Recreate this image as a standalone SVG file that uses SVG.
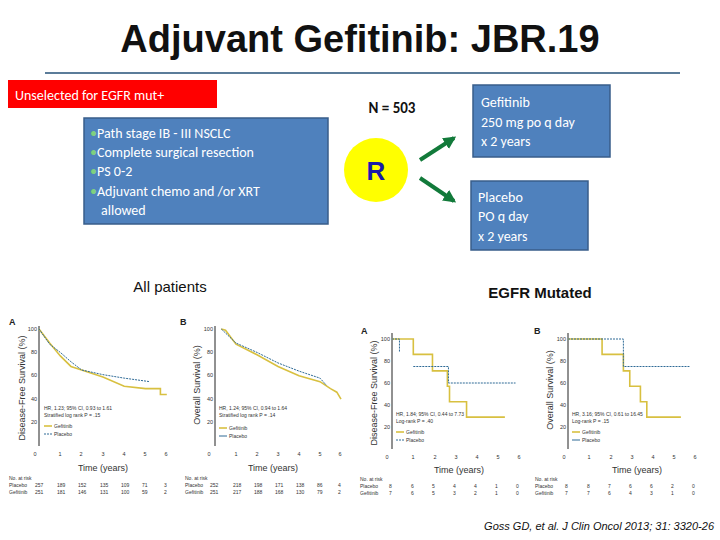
<svg xmlns="http://www.w3.org/2000/svg" width="720" height="540" viewBox="0 0 720 540">
<defs>
<style>
text{font-family:"Liberation Sans",Arial,sans-serif}
.cal{font-family:Carlito,"Open Sans","Liberation Sans",sans-serif}
.box{fill:#4f81bd;stroke:#385d8a;stroke-width:1.5}
.wt{fill:#fff;font-size:14px}
.ax{stroke:#222;stroke-width:1;fill:none}
.g{fill:none;stroke:#d8c040;stroke-width:1.6;vector-effect:non-scaling-stroke}
.p{fill:none;stroke:#2e6a96;stroke-width:1;stroke-dasharray:2 1;vector-effect:non-scaling-stroke}
.t{font-size:5px;fill:#333}
.tk{font-size:5.5px;fill:#333}
.yl{font-size:9px;fill:#333}
.xl{font-size:9px;fill:#333}
.pl{font-size:9px;font-weight:bold;fill:#222}
</style>
<marker id="ah" viewBox="0 0 10 10" refX="8" refY="5" markerWidth="3.2" markerHeight="3.2" orient="auto"><path d="M0,0L10,5L0,10z" fill="#127a3a"/></marker>
</defs>
<rect width="720" height="540" fill="#fff"/>
<text x="360" y="52" text-anchor="middle" font-size="38" font-weight="bold" fill="#111">Adjuvant Gefitinib: JBR.19</text>
<line x1="45" y1="73" x2="680" y2="73" stroke="#5b7c99" stroke-width="2"/>

<g id="unselected"><rect x="8" y="80" width="209" height="28" fill="#ff0000"/><text x="15" y="100" class="wt cal" font-size="15">Unselected for EGFR mut+</text></g>
<g id="criteria"><rect x="84" y="118" width="244" height="106" class="box"/>
<text class="wt cal" font-size="14"><tspan x="90" y="138"><tspan fill="#7fd07f">•</tspan>Path stage IB - III NSCLC</tspan><tspan x="90" y="157"><tspan fill="#7fd07f">•</tspan>Complete surgical resection</tspan><tspan x="90" y="176"><tspan fill="#7fd07f">•</tspan>PS 0-2</tspan><tspan x="90" y="196"><tspan fill="#7fd07f">•</tspan>Adjuvant chemo and /or XRT</tspan><tspan x="101" y="215">allowed</tspan></text></g>
<g id="n"><text x="392" y="113" text-anchor="middle" font-size="15" font-weight="bold" fill="#111" class="cal">N = 503</text></g>
<g id="r"><circle cx="376" cy="170" r="32" fill="#ffff00"/><text x="376" y="180" text-anchor="middle" font-size="26" font-weight="bold" fill="#1a1aa8">R</text></g>
<g id="gef"><rect x="473" y="85" width="137" height="72" class="box"/><text class="wt cal"><tspan x="481" y="107">Gefitinib</tspan><tspan x="481" y="127">250 mg po q day</tspan><tspan x="481" y="146">x 2 years</tspan></text></g>
<g id="plac"><rect x="471" y="181" width="117" height="69" class="box"/><text class="wt cal"><tspan x="478" y="202">Placebo</tspan><tspan x="478" y="221">PO q day</tspan><tspan x="478" y="241">x 2 years</tspan></text></g>
<g id="connectors" stroke="#127a3a" stroke-width="4" marker-end="url(#ah)">
<line x1="420" y1="160" x2="454" y2="138"/><line x1="420" y1="178" x2="454" y2="201"/>
</g>
<text x="170" y="292" text-anchor="middle" font-size="15" fill="#111">All patients</text>
<text x="540" y="298" text-anchor="middle" font-size="15" font-weight="bold" fill="#111">EGFR Mutated</text>

<g id="chartLA">
<text x="9" y="325" class="pl">A</text>
<path class="ax" d="M39,326V446"/>
<g class="tk" text-anchor="end"><text x="37" y="331">100</text><text x="37" y="354">80</text><text x="37" y="377">60</text><text x="37" y="401">40</text><text x="37" y="424">20</text></g>
<g class="tk" text-anchor="middle"><text x="35" y="456">0</text><text x="60" y="456">1</text><text x="81" y="456">2</text><text x="103" y="456">3</text><text x="124" y="456">4</text><text x="145" y="456">5</text><text x="166" y="456">6</text></g>
<text transform="translate(25,388) rotate(-90)" text-anchor="middle" class="yl">Disease-Free Survival (%)</text>
<text x="103" y="471" text-anchor="middle" class="xl">Time (years)</text>
<text x="44" y="410" class="t">HR, 1.23; 95% CI, 0.93 to 1.61</text><text x="44" y="417" class="t">Stratified log rank P = .15</text>
<line x1="44" y1="426" x2="52" y2="426" stroke="#d8c040" stroke-width="1.6"/><text x="54" y="428" class="t">Gefitinib</text>
<line x1="44" y1="434" x2="52" y2="434" stroke="#2e6a96" stroke-dasharray="2 1"/><text x="54" y="436" class="t">Placebo</text>
<g transform="translate(39,446) scale(21.3,-1.17)">
<polyline class="g" points="0,100 0.5,88 1,77 1.5,68 2,65 3,59 4,51 5,49 5.7,49 5.7,44 6,44"/>
<polyline class="p" points="0,100 0.5,87 1,80 1.5,72 2,65 3,61 4,58 5.2,55"/>
</g>
<g class="t"><text x="9" y="480">No. at risk</text><text x="9" y="487">Placebo</text><text x="9" y="494">Gefitinib</text>
<text x="35" y="487">257</text><text x="57" y="487">189</text><text x="78" y="487">152</text><text x="100" y="487">135</text><text x="121" y="487">109</text><text x="142" y="487">71</text><text x="164" y="487">3</text>
<text x="35" y="494">251</text><text x="57" y="494">181</text><text x="78" y="494">146</text><text x="100" y="494">131</text><text x="121" y="494">100</text><text x="142" y="494">59</text><text x="164" y="494">2</text></g>
</g>

<g id="chartLB">
<text x="180" y="325" class="pl">B</text>
<path class="ax" d="M215,326V446"/>
<g class="tk" text-anchor="end"><text x="213" y="331">100</text><text x="213" y="354">80</text><text x="213" y="377">60</text><text x="213" y="401">40</text><text x="213" y="424">20</text></g>
<g class="tk" text-anchor="middle"><text x="209" y="456">0</text><text x="236" y="456">1</text><text x="257" y="456">2</text><text x="278" y="456">3</text><text x="299" y="456">4</text><text x="320" y="456">5</text><text x="340" y="456">6</text></g>
<text transform="translate(200,385) rotate(-90)" text-anchor="middle" class="yl">Overall Survival (%)</text>
<text x="273" y="471" text-anchor="middle" class="xl">Time (years)</text>
<text x="219" y="410" class="t">HR, 1.24; 95% CI, 0.94 to 1.64</text><text x="219" y="417" class="t">Stratified log rank P = .14</text>
<line x1="219" y1="428" x2="227" y2="428" stroke="#d8c040" stroke-width="1.6"/><text x="229" y="430" class="t">Gefitinib</text>
<line x1="219" y1="436" x2="227" y2="436" stroke="#2e6a96"/><text x="229" y="438" class="t">Placebo</text>
<g transform="translate(215,446) scale(21,-1.17)">
<polyline class="g" points="0.3,100 0.5,99 1,87 2,78 3,68 4,60 5,55 5.5,49 5.8,46 6,40"/>
<polyline class="p" points="0.3,100 1,88 2,80 3,71 4,64 5,58 5.3,52"/>
</g>
<g class="t"><text x="185" y="480">No. at risk</text><text x="185" y="487">Placebo</text><text x="185" y="494">Gefitinib</text>
<text x="210" y="487">252</text><text x="233" y="487">218</text><text x="254" y="487">198</text><text x="275" y="487">171</text><text x="296" y="487">138</text><text x="317" y="487">86</text><text x="338" y="487">4</text>
<text x="210" y="494">251</text><text x="233" y="494">217</text><text x="254" y="494">188</text><text x="275" y="494">168</text><text x="296" y="494">130</text><text x="317" y="494">79</text><text x="338" y="494">2</text></g>
</g>

<g id="chartRA">
<text x="361" y="334" class="pl">A</text>
<path class="ax" d="M392,333V449"/>
<g class="tk" text-anchor="end"><text x="390" y="341">100</text><text x="390" y="363">80</text><text x="390" y="385">60</text><text x="390" y="407">40</text><text x="390" y="429">20</text></g>
<g class="tk" text-anchor="middle"><text x="387" y="459">0</text><text x="413" y="459">1</text><text x="435" y="459">2</text><text x="456" y="459">3</text><text x="477" y="459">4</text><text x="498" y="459">5</text><text x="519" y="459">6</text></g>
<text transform="translate(377,393) rotate(-90)" text-anchor="middle" class="yl">Disease-Free Survival (%)</text>
<text x="459" y="473" text-anchor="middle" class="xl">Time (years)</text>
<text x="396" y="416" class="t">HR, 1.84; 95% CI, 0.44 to 7.73</text><text x="396" y="423" class="t">Log-rank P = .40</text>
<line x1="396" y1="432" x2="404" y2="432" stroke="#d8c040" stroke-width="1.6"/><text x="406" y="434" class="t">Gefitinib</text>
<line x1="396" y1="440" x2="404" y2="440" stroke="#2e6a96" stroke-dasharray="2 1"/><text x="406" y="442" class="t">Placebo</text>
<g transform="translate(392,449) scale(21.3,-1.1)">
<polyline class="g" points="0,100 1,100 1,86 1.9,86 1.9,71 2.6,71 2.6,57 2.7,57 2.7,43 3.5,43 3.5,29 5.3,29"/>
<polyline class="p" points="0,100 0.35,100 0.35,88"/>
<polyline class="p" points="1,75 2.65,75 2.65,60 5.8,60"/>
</g>
<g class="t"><text x="360" y="481">No. at risk</text><text x="360" y="488">Placebo</text><text x="360" y="495">Gefitinib</text>
<text x="389" y="488">8</text><text x="411" y="488">6</text><text x="432" y="488">5</text><text x="453" y="488">4</text><text x="474" y="488">4</text><text x="495" y="488">1</text><text x="516" y="488">0</text>
<text x="389" y="495">7</text><text x="411" y="495">6</text><text x="432" y="495">5</text><text x="453" y="495">3</text><text x="474" y="495">2</text><text x="495" y="495">1</text><text x="516" y="495">0</text></g>
</g>

<g id="chartRB">
<text x="534" y="334" class="pl">B</text>
<path class="ax" d="M568,333V449"/>
<g class="tk" text-anchor="end"><text x="566" y="341">100</text><text x="566" y="363">80</text><text x="566" y="385">60</text><text x="566" y="407">40</text><text x="566" y="429">20</text></g>
<g class="tk" text-anchor="middle"><text x="564" y="459">0</text><text x="589" y="459">1</text><text x="611" y="459">2</text><text x="632" y="459">3</text><text x="653" y="459">4</text><text x="674" y="459">5</text><text x="695" y="459">6</text></g>
<text transform="translate(553,390) rotate(-90)" text-anchor="middle" class="yl">Overall Survival (%)</text>
<text x="637" y="473" text-anchor="middle" class="xl">Time (years)</text>
<text x="572" y="416" class="t">HR, 3.16; 95% CI, 0.61 to 16.45</text><text x="572" y="423" class="t">Log-rank P = .15</text>
<line x1="572" y1="432" x2="580" y2="432" stroke="#d8c040" stroke-width="1.6"/><text x="582" y="434" class="t">Gefitinib</text>
<line x1="572" y1="440" x2="580" y2="440" stroke="#2e6a96"/><text x="582" y="442" class="t">Placebo</text>
<g transform="translate(568,449) scale(21.3,-1.1)">
<polyline class="g" points="0,100 1.6,100 1.6,86 2.6,86 2.6,71 2.9,71 2.9,57 3.4,57 3.4,43 3.7,43 3.7,29 5.3,29"/>
<polyline class="p" points="0,100 2.6,100 2.6,88 2.6,75 5.7,75"/>
</g>
<g class="t"><text x="535" y="481">No. at risk</text><text x="535" y="488">Placebo</text><text x="535" y="495">Gefitinib</text>
<text x="565" y="488">8</text><text x="587" y="488">8</text><text x="608" y="488">7</text><text x="629" y="488">6</text><text x="650" y="488">6</text><text x="671" y="488">2</text><text x="692" y="488">0</text>
<text x="565" y="495">7</text><text x="587" y="495">7</text><text x="608" y="495">6</text><text x="629" y="495">4</text><text x="650" y="495">3</text><text x="671" y="495">1</text><text x="692" y="495">0</text></g>
</g>

<text x="714" y="530" text-anchor="end" font-size="11" font-style="italic" fill="#111">Goss GD, et al. J Clin Oncol 2013; 31: 3320-26</text>
</svg>
